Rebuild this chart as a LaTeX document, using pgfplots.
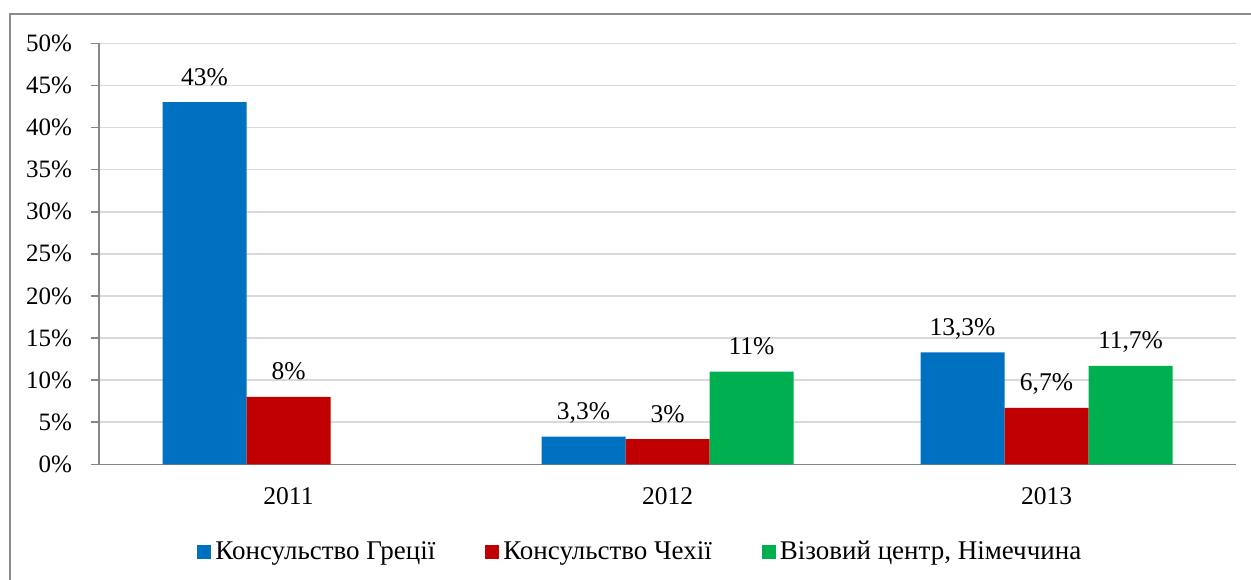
\documentclass[border=0pt]{standalone}
\usepackage{pgfplots}
\pgfplotsset{compat=1.18}
\usepackage{fontspec}
\setmainfont{Liberation Serif}
\definecolor{cblue}{HTML}{0070C0}
\definecolor{cred}{HTML}{C00000}
\definecolor{cgreen}{HTML}{00B050}
\definecolor{gridc}{HTML}{D9D9D9}
\definecolor{axc}{HTML}{868686}
\definecolor{framec}{HTML}{8C8C8C}
\begin{document}
\begin{tikzpicture}
\useasboundingbox (-49.5pt,-57.35pt) rectangle (576pt,232.15pt);
\clip (-49.5pt,-57.35pt) rectangle (576pt,232.15pt);
\draw[framec, line width=1pt] (-44.5pt,-80pt) -- (-44.5pt,225.15pt) -- (600pt,225.15pt);
\begin{axis}[
  at={(0,0)}, anchor=south west,
  scale only axis, width=568.5pt, height=210.5pt,
  font=\fontsize{12.5}{15}\selectfont,
  xmin=-0.5, xmax=2.5, ymin=0, ymax=50,
  ybar, bar width=42pt,
  axis x line*=bottom, axis y line*=left,
  axis line style={draw=axc, line width=0.8pt, -},
  ytick={0,5,...,50},
  yticklabels={0\%,5\%,10\%,15\%,20\%,25\%,30\%,35\%,40\%,45\%,50\%},
  yticklabel style={xshift=-6pt},
  ymajorgrids, grid style={draw=gridc, line width=0.8pt},
  tick align=outside, major tick length=4pt,
  tick style={draw=axc, line width=0.8pt},
  xtick={0,1,2}, xticklabels={2011,2012,2013},
  xticklabel style={yshift=-4pt, font=\fontsize{12.75}{15}\selectfont},
  x tick style={draw=none},
  extra x ticks={-0.5,0.5,1.5,2.5}, extra x tick labels={},
  extra x tick style={grid=none, tick style={draw=axc, line width=0.8pt}, major tick length=4pt},
  nodes near coords={\pgfplotspointmeta\%},
  point meta=explicit symbolic,
  every node near coord/.append style={anchor=base, inner sep=0pt, yshift=8.5pt, font=\fontsize{12.75}{15}\selectfont, text=black},
  legend columns=3,
  legend style={at={(0.477,-0.208)}, anchor=center, draw=none, fill=none,
    font=\fontsize{13.5}{16}\selectfont,
    /tikz/every even column/.append style={column sep=23pt}},
  legend image code/.code={\fill[#1] (0pt,-3.5pt) rectangle (7pt,3.5pt);},
]
\addplot[fill=cblue, draw=none, bar shift=-42pt] table[meta=l] {
x y l
0 43 43
1 3.3 3,3
2 13.3 13,3
};
\addplot[fill=cred, draw=none, bar shift=0pt] table[meta=l] {
x y l
0 8 8
1 3 3
2 6.7 6,7
};
\addplot[fill=cgreen, draw=none, bar shift=42pt] table[meta=l] {
x y l
1 11 11
2 11.7 11,7
};
\legend{Консульство Греції, Консульство Чехії, {Візовий центр, Німеччина}}
\end{axis}
\end{tikzpicture}
\end{document}
